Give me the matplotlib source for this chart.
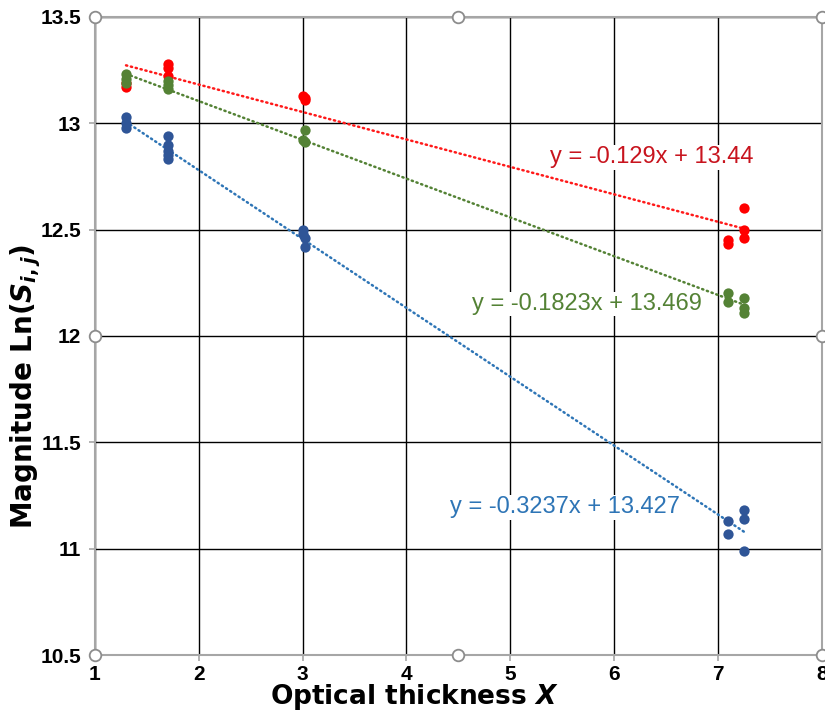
import numpy as np
import matplotlib
matplotlib.use("Agg")
import matplotlib.pyplot as plt

plt.rcParams['font.family'] = ['Liberation Sans', 'DejaVu Sans']
plt.rcParams['mathtext.fontset'] = 'custom'
plt.rcParams['mathtext.rm'] = 'DejaVu Sans:bold'
plt.rcParams['mathtext.it'] = 'DejaVu Sans:bold:italic'
plt.rcParams['mathtext.bf'] = 'DejaVu Sans:bold'

# data
red_x = [1.3, 1.3, 1.7, 1.7, 1.7, 3.0, 3.02, 3.02, 7.1, 7.1, 7.25, 7.25, 7.25]
red_y = [13.17, 13.19, 13.28, 13.26, 13.22, 13.13, 13.12, 13.11,
         12.45, 12.43, 12.60, 12.50, 12.46]
green_x = [1.3, 1.3, 1.3, 1.7, 1.7, 1.7, 3.02, 3.0, 3.02, 7.1, 7.1, 7.25, 7.25, 7.25]
green_y = [13.23, 13.21, 13.19, 13.20, 13.18, 13.16, 12.97, 12.92, 12.91,
           12.20, 12.16, 12.18, 12.13, 12.11]
blue_x = [1.3, 1.3, 1.3, 1.7, 1.7, 1.7, 1.7, 1.7, 3.0, 3.0, 3.02, 3.02,
          7.1, 7.1, 7.25, 7.25, 7.25]
blue_y = [13.03, 13.00, 12.98, 12.94, 12.90, 12.87, 12.85, 12.83,
          12.50, 12.48, 12.46, 12.42, 11.13, 11.07, 11.18, 11.14, 10.99]

# trendline coefficients as printed on the chart
red_fit = (-0.129, 13.44)
green_fit = (-0.1823, 13.469)
blue_fit = (-0.3237, 13.427)
red_lbl = "y = -0.129x + 13.44"
green_lbl = "y = -0.1823x + 13.469"
blue_lbl = "y = -0.3237x + 13.427"

fig = plt.figure(figsize=(8.25, 7.13), dpi=100)
ax = fig.add_axes([0.115, 0.0813, 0.881, 0.895])

series = [
    (red_x, red_y, red_fit, red_lbl, '#FF0000', '#FF1A1A', '#C8141E', (6.36, 12.84)),
    (green_x, green_y, green_fit, green_lbl, '#548235', '#548235', '#548235', (5.74, 12.15)),
    (blue_x, blue_y, blue_fit, blue_lbl, '#2F5597', '#2E75B6', '#2E75B6', (5.53, 11.195)),
]

for xs, ys, fit, lbl, pc, lc, tc, pos in series:
    ax.scatter(xs, ys, s=55, color=pc, zorder=4, linewidths=0)
    xx = np.array([min(xs), max(xs)])
    ax.plot(xx, fit[0] * xx + fit[1], color=lc, lw=1.8,
            linestyle=(0, (0.5, 1.5)), dash_capstyle='round', zorder=3)
    ax.text(pos[0], pos[1], lbl, color=tc, fontsize=17, ha='center', va='center',
            zorder=5, bbox=dict(facecolor='white', edgecolor='none', pad=1))

ax.set_xlim(1, 8)
ax.set_ylim(10.5, 13.5)
ax.set_xticks(np.arange(1, 9, 1))
ax.set_yticks(np.arange(10.5, 13.51, 0.5))
ax.set_xticklabels([str(v) for v in range(1, 9)])
ax.set_yticklabels(['10.5', '11', '11.5', '12', '12.5', '13', '13.5'])
ax.grid(True, color='black', lw=1, zorder=1)
ax.set_axisbelow(True)
for sp in ax.spines.values():
    sp.set_color('#A6A6A6')
    sp.set_linewidth(1.5)
ax.tick_params(direction='out', length=4, color='#A6A6A6', width=1.2,
               labelsize=15, pad=6)
ax.tick_params(axis='x', pad=3)
for t in ax.get_xticklabels() + ax.get_yticklabels():
    t.set_fontweight('bold')

ax.set_xlabel(r"Optical thickness $X$", fontsize=19, fontweight='bold',
              family='DejaVu Sans', va='baseline')
ax.xaxis.set_label_coords(0.44, (655 - 704) / 638)
ax.set_ylabel(r"Magnitude Ln($S_{i,j}$)", fontsize=20, fontweight='bold',
              family='DejaVu Sans')
ax.yaxis.set_label_coords(-0.072, 0.42)

# selection handles of the chart
hx = [0, 0.5, 1, 0, 1, 0, 0.5, 1]
hy = [1, 1, 1, 0.5, 0.5, 0, 0, 0]
ax.scatter(hx, hy, s=70, facecolor='white', edgecolor='#8C8C8C', linewidths=1.3,
           transform=ax.transAxes, clip_on=False, zorder=6)

fig.savefig("out.png", dpi=100)
